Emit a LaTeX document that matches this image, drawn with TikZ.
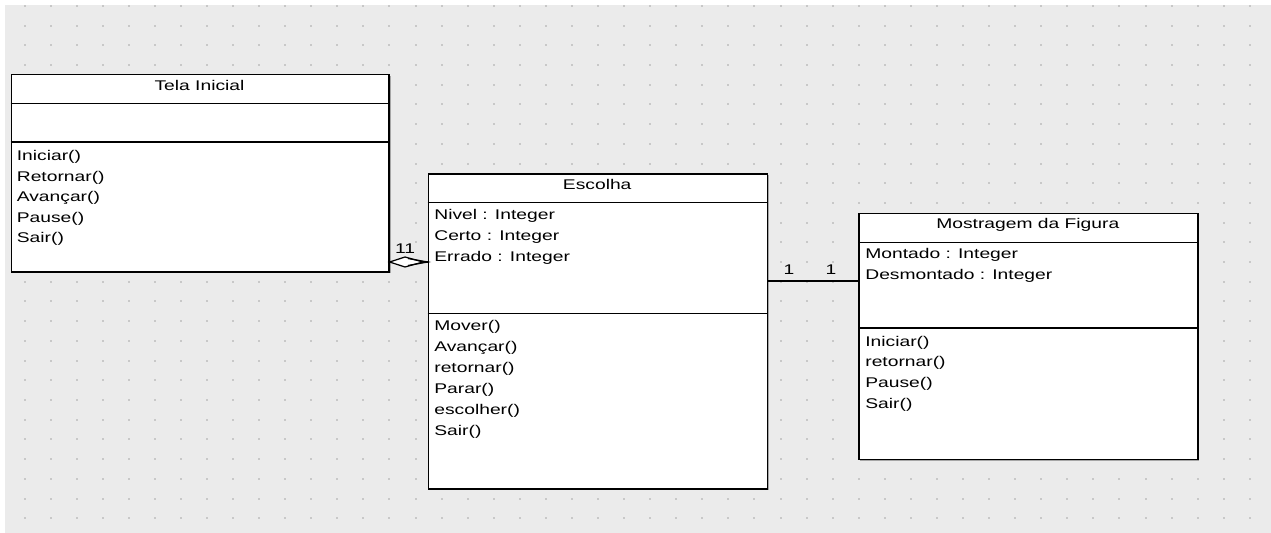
\documentclass[tikz,border=0pt]{standalone}
\usepackage{fontspec}
\setmainfont{Liberation Sans}[FakeStretch=1.37]
\begin{document}
\begin{tikzpicture}[x=0.02cm,y=-0.02cm,
  umlbox/.style={draw=black,line width=0.8pt,fill=white,inner sep=0pt,anchor=north west},
  divider/.style={draw=black,line width=0.7pt},
  txt/.style={inner sep=0pt,anchor=base west,font=\fontsize{8pt}{9pt}\selectfont},
  ttl/.style={inner sep=0pt,anchor=base,font=\fontsize{8pt}{9pt}\selectfont},
  mult/.style={inner sep=0pt,anchor=base,font=\fontsize{8pt}{9pt}\selectfont},
  conn/.style={draw=black,line width=0.7pt},
  shadow/.style={fill=black!35}]
\useasboundingbox (0,0) rectangle (1271,533);
\fill[white] (0,0) rectangle (1271,533);
\fill[fill={rgb,255:red,235;green,235;blue,235}] (5,5) rectangle (1271,533);
% dot grid
\foreach \i in {0,...,47}{
  \foreach \j in {0,...,26}{
    \fill[fill={rgb,255:red,200;green,200;blue,200}] ({24.5+26.07*\i-1},{6+19.7*\j-1}) rectangle ++(2,2);
  }
}
% shadows
\fill[shadow] (12.5,76) rectangle (390.5,273.5);
\fill[shadow] (429.5,175) rectangle (768.5,490);
\fill[shadow] (860,214.5) rectangle (1199,460.5);
% Tela Inicial
\node[umlbox,minimum width=377.5*0.02cm,minimum height=197.5*0.02cm] (tela) at (10.7,74) {};
\draw[divider] (10.7,103.7) -- (388.2,103.7);
\draw[divider] (10.7,142) -- (388.2,142);
\node[ttl] (telat) at (199.5,91) {Tela Inicial};
\node[txt] (tm1) at (16.5,161) {Iniciar()};
\node[txt] (tm2) at (16.5,181.5) {Retornar()};
\node[txt] (tm3) at (16.5,202) {Avançar()};
\node[txt] (tm4) at (16.5,222.5) {Pause()};
\node[txt] (tm5) at (16.5,243) {Sair()};
% Escolha
\node[umlbox,minimum width=339*0.02cm,minimum height=315*0.02cm] (esc) at (427.7,173.3) {};
\draw[divider] (427.7,202.7) -- (766.7,202.7);
\draw[divider] (427.7,313.3) -- (766.7,313.3);
\node[ttl] (esct) at (597.2,189.5) {Escolha};
\node[txt] (ea1) at (434,219.5) {Nivel : Integer};
\node[txt] (ea2) at (434,240.5) {Certo : Integer};
\node[txt] (ea3) at (434,261.5) {Errado : Integer};
\node[txt] (em1) at (434,331) {Mover()};
\node[txt] (em2) at (434,351.5) {Avançar()};
\node[txt] (em3) at (434,372.5) {retornar()};
\node[txt] (em4) at (434,393.5) {Parar()};
\node[txt] (em5) at (434,414.5) {escolher()};
\node[txt] (em6) at (434,435.5) {Sair()};
% Mostragem da Figura
\node[umlbox,minimum width=339*0.02cm,minimum height=246*0.02cm] (most) at (858.3,212.7) {};
\draw[divider] (858.3,242.3) -- (1197.3,242.3);
\draw[divider] (858.3,328) -- (1197.3,328);
\node[ttl] (mostt) at (1027.8,228.5) {Mostragem da Figura};
\node[txt] (ma1) at (865,258.5) {Montado : Integer};
\node[txt] (ma2) at (865,279.5) {Desmontado : Integer};
\node[txt] (mm1) at (865,346.5) {Iniciar()};
\node[txt] (mm2) at (865,367) {retornar()};
\node[txt] (mm3) at (865,387.5) {Pause()};
\node[txt] (mm4) at (865,408.5) {Sair()};
% association Escolha -- Mostragem
\coordinate (a1) at (esc.east |- 0,281);
\coordinate (a2) at (most.west |- 0,281);
\draw[conn] (a1) -- (a2);
\node[mult] (m1) at (789,274.5) {1};
\node[mult] (m2) at (831,274.5) {1};
% aggregation Tela Inicial -- Escolha
\coordinate (d0) at (tela.east |- 0,262);
\coordinate (d1) at (esc.west |- 0,262);
\draw[conn,fill=white] (d0) -- (405,257) -- (423,262) -- (405,267) -- cycle;
\draw[conn] (408,258.5) -- (d1) -- (408,265.5);
\draw[conn] (423,262) -- (d1);
\node[mult] (m3) at (405,254) {11};
\end{tikzpicture}
\end{document}
